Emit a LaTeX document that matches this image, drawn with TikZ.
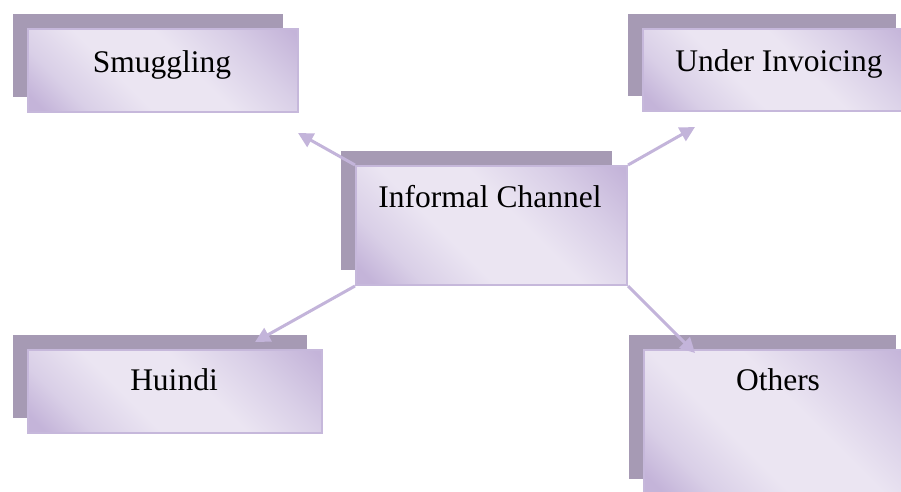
\documentclass[tikz,border=0pt]{standalone}
\usepackage{fontspec}
\setmainfont{Liberation Serif}
\usetikzlibrary{arrows.meta,shadows}

\definecolor{boxlight}{HTML}{EBE5F2}
\definecolor{boxmid}{HTML}{D9CFE7}
\definecolor{boxdark}{HTML}{C4B4D9}
\definecolor{boxedge}{HTML}{C6B8DB}
\definecolor{backplate}{HTML}{A69AB4}
\definecolor{linkc}{HTML}{C3B4DA}

% diagonal lavender sheen used on every box face
\pgfdeclareverticalshading{lavender}{100bp}{color(0bp)=(boxdark); color(18bp)=(boxdark); color(27bp)=(boxmid); color(40bp)=(boxlight); color(56bp)=(boxlight); color(70bp)=(boxmid); color(84bp)=(boxdark); color(100bp)=(boxdark)}

\tikzset{
  box/.style={rectangle, draw=boxedge, line width=2pt, shading=lavender,
    shading angle=-45, inner sep=0pt,
    general shadow={fill=backplate, shadow xshift=-15pt, shadow yshift=15pt}},
  lbl/.style={anchor=base, inner sep=0pt, text=black,
    font=\fontsize{31.5}{36}\selectfont},
  arr/.style={draw=linkc, line width=3pt,
    -{Triangle[length=15pt,width=15pt]}}
}

\begin{document}
\begin{tikzpicture}[x=1pt,y=-1pt]
\useasboundingbox (0,0) rectangle (901,491);
\clip (0,0) rectangle (901,491);

% boxes with their offset back plates
\node[box, minimum width=270pt, minimum height=83pt] (smug) at (163,70.5) {};
\node[box, minimum width=268pt, minimum height=82pt] (under) at (777,70) {};
\node[box, minimum width=271pt, minimum height=119pt] (ic) at (491.5,225.5) {};
\node[box, minimum width=294pt, minimum height=83pt] (huindi) at (175,391.5) {};
\node[box, minimum width=267pt, minimum height=144pt] (others) at (777.5,422) {};

% captions
\node[lbl] (smugtxt) at (162,72) {Smuggling};
\node[lbl] (undertxt) at (779,71) {Under Invoicing};
\node[lbl] (ictxt) at (490,207) {Informal Channel};
\node[lbl] (huinditxt) at (174,390) {Huindi};
\node[lbl] (otherstxt) at (778,390) {Others};

% arrow tips
\coordinate (tipS) at (298,133);
\coordinate (tipU) at (695,127);
\coordinate (tipH) at (255,342);
\coordinate (tipO) at (695,353);

\draw[arr] (ic.north west) -- (tipS);
\draw[arr] (ic.north east) -- (tipU);
\draw[arr] (ic.south west) -- (tipH);
\draw[arr] (ic.south east) -- (tipO);
\end{tikzpicture}
\end{document}
